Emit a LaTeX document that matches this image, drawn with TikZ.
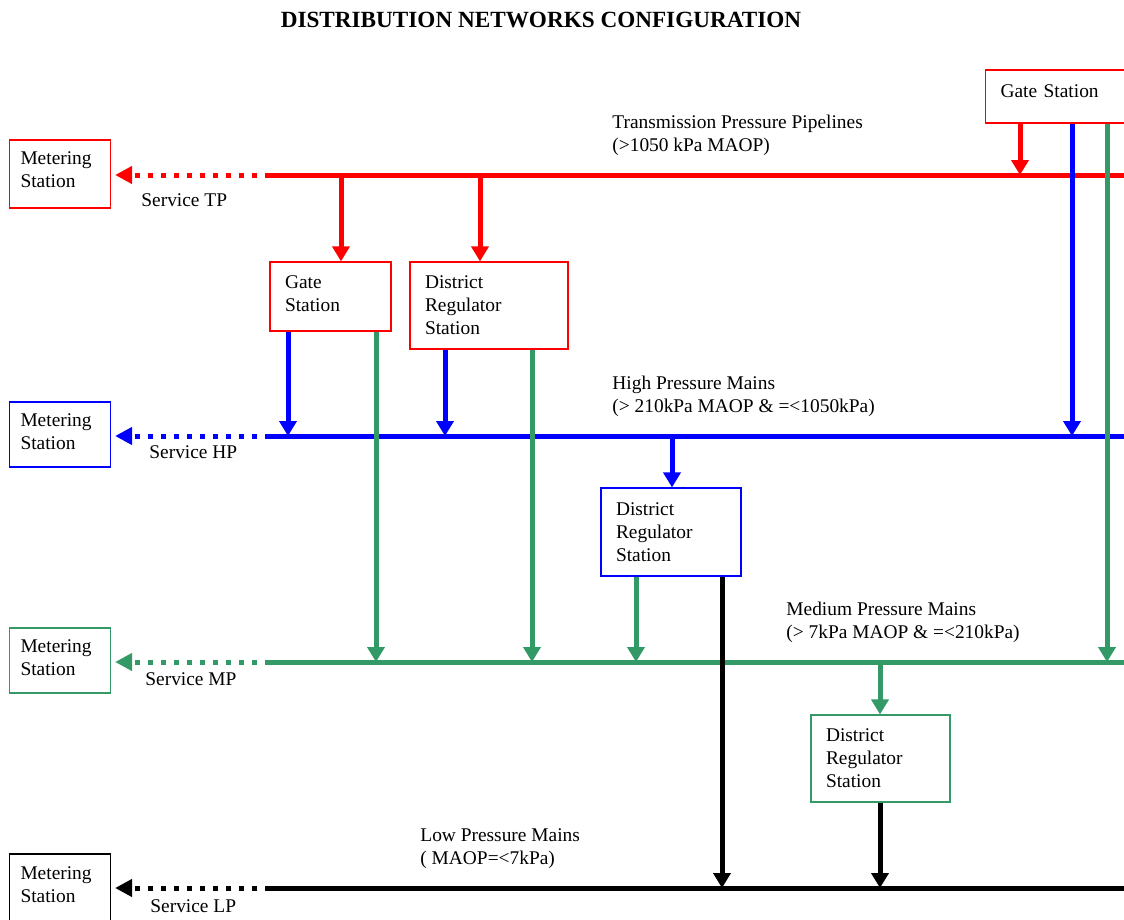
\documentclass[tikz,border=0pt]{standalone}
\usepackage{fontspec}
\setmainfont{Liberation Serif}
\usetikzlibrary{arrows.meta,positioning}
\definecolor{tpred}{HTML}{FF0000}
\definecolor{hpblue}{HTML}{0000FF}
\definecolor{mpgreen}{HTML}{339966}

\begin{document}
\begin{tikzpicture}[x=0.5pt,y=-0.5pt,
  every node/.style={font=\fontsize{9.7}{11.5}\selectfont},
  stnbox/.style={draw=#1,line width=0.6pt,fill=white,align=left,inner xsep=7.5pt,inner ysep=0pt},
  meterbox/.style={draw=#1,line width=0.6pt,fill=white,align=left,inner xsep=5.5pt,inner ysep=0pt,text width=39.5pt},
  main/.style={draw=#1,line width=2.5pt},
  feed/.style={draw=#1,line width=2.5pt,-{Triangle[length=7.5pt,width=8.5pt]}},
  service/.style={draw=#1,line width=2.5pt,dash pattern=on 2.5pt off 4pt,shorten >=2pt,-{Triangle[length=8.5pt,width=8.5pt]}},
  lbl/.style={align=left,inner sep=0pt,anchor=west}]
  \useasboundingbox (0,0) rectangle (1124,920);
  % Title
  \node[font=\bfseries\fontsize{11.6}{13}\selectfont] (title) at (541,20) {DISTRIBUTION NETWORKS CONFIGURATION};

  % Pressure levels: mains, service line and metering station
  \foreach \lvl/\yy/\col/\lab/\sx/\sy/\by/\bh/\td in {tp/175/tpred/TP/141/200/174/34/15.6,
      hp/436/hpblue/HP/149/452/434.5/32.5/14.6, mp/662/mpgreen/MP/145/679/660.5/32.5/14.6,
      lp/888/black/LP/150/906/907/53/34.1} {
    \coordinate (\lvl A) at (270,\yy);
    \coordinate (\lvl B) at (1130,\yy);
    \node[meterbox=\col,minimum height=\bh pt,text depth=\td pt] (m\lvl) at (60,\by) {Metering\\Station};
    \draw[main=\col] (\lvl A) -- (\lvl B);
    \draw[service=\col] (\lvl A) -- (\lvl A -| m\lvl.east);
    \node[lbl] (s\lvl) at (\sx,\sy) {Service \lab};
  }

  % Mains labels
  \node[lbl] (tplbl) at (612,135) {Transmission Pressure Pipelines\\(>1050 kPa MAOP)};
  \node[lbl] (hplbl) at (612,396) {High Pressure Mains\\(> 210kPa MAOP \& =<1050kPa)};
  \node[lbl] (mplbl) at (786,622.5) {Medium Pressure Mains\\(> 7kPa MAOP \& =<210kPa)};
  \node[lbl] (lplbl) at (420,849) {Low Pressure Mains\\( MAOP=<7kPa)};

  % Stations
  \node[stnbox=tpred,anchor=west,text width=70pt,minimum height=26.5pt,text depth=5pt] (gs1) at (985,96.5) {Gate Station};
  \node[stnbox=tpred,text width=45.5pt,minimum height=34.5pt,text depth=14.6pt] (gs2) at (330.5,296.5) {Gate\\Station};
  \node[stnbox=tpred,text width=64pt,minimum height=43.5pt] (dr1) at (489,305.5) {District\\Regulator\\Station};
  \node[stnbox=hpblue,text width=55pt,minimum height=44pt] (dr2) at (671,532) {District\\Regulator\\Station};
  \node[stnbox=mpgreen,text width=54.5pt,minimum height=43.5pt] (dr3) at (880.5,758.5) {District\\Regulator\\Station};

  % Tap points on the mains
  \coordinate (tp1) at (341,175);
  \coordinate (tp2) at (480,175);
  \coordinate (tp3) at (1020,175);
  \coordinate (hp1) at (288,436);
  \coordinate (hp2) at (445,436);
  \coordinate (hp3) at (1072,436);
  \coordinate (hp4) at (672,436);
  \coordinate (mp1) at (376,662);
  \coordinate (mp2) at (532,662);
  \coordinate (mp3) at (636,662);
  \coordinate (mp4) at (1107,662);
  \coordinate (mp5) at (880,662);
  \coordinate (lp1) at (722,888);
  \coordinate (lp2) at (880,888);

  % Transmission feeds
  \draw[feed=tpred] (tp1) -- (tp1 |- gs2.north);
  \draw[feed=tpred] (tp2) -- (tp2 |- dr1.north);
  \draw[feed=tpred] (tp3 |- gs1.south) -- (tp3);
  % High pressure feeds
  \draw[feed=hpblue] (hp1 |- gs2.south) -- (hp1);
  \draw[feed=hpblue] (hp2 |- dr1.south) -- (hp2);
  \draw[feed=hpblue] (hp3 |- gs1.south) -- (hp3);
  \draw[feed=hpblue] (hp4) -- (hp4 |- dr2.north);
  % Medium pressure feeds
  \draw[feed=mpgreen] (mp1 |- gs2.south) -- (mp1);
  \draw[feed=mpgreen] (mp2 |- dr1.south) -- (mp2);
  \draw[feed=mpgreen] (mp3 |- dr2.south) -- (mp3);
  \draw[feed=mpgreen] (mp4 |- gs1.south) -- (mp4);
  \draw[feed=mpgreen] (mp5) -- (mp5 |- dr3.north);
  % Low pressure feeds
  \draw[feed=black] (lp1 |- dr2.south) -- (lp1);
  \draw[feed=black] (lp2 |- dr3.south) -- (lp2);
\end{tikzpicture}
\end{document}
